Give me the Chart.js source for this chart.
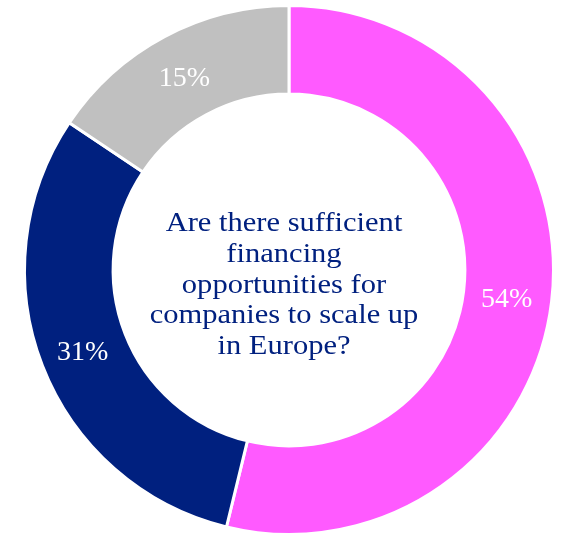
<!DOCTYPE html>
<html>
<head>
<meta charset="utf-8">
<script src="https://cdn.jsdelivr.net/npm/chart.js@4"></script>
<style>
  html, body { margin: 0; padding: 0; background: #ffffff; }
  #wrap { width: 565px; height: 536px; }
</style>
</head>
<body>
<div id="wrap"><canvas id="canvas"></canvas></div>
<script>
var labels = ["Yes", "No", "Don't know"];
// slice sizes as drawn in the original; printed labels are rounded
var shares = [53.8, 30.6, 15.6];
var shareLabels = ["54%", "31%", "15%"];
var colors = ["#ff5aff", "#00207f", "#c0c0c0"];
var centerLines = [
  "Are there sufficient",
  "financing",
  "opportunities for",
  "companies to scale up",
  "in Europe?"
];

var serif = "'Liberation Serif', 'Times New Roman', serif";

// percentage labels on each slice
var sliceLabels = {
  id: "sliceLabels",
  afterDatasetsDraw: function (chart) {
    var ctx = chart.ctx;
    var meta = chart.getDatasetMeta(0);
    ctx.save();
    ctx.font = "28px " + serif;
    ctx.fillStyle = "#ffffff";
    ctx.textAlign = "center";
    ctx.textBaseline = "middle";
    meta.data.forEach(function (arc, i) {
      var p = arc.tooltipPosition();
      ctx.fillText(shareLabels[i], p.x - 1, p.y + 3);
    });
    ctx.restore();
  }
};

// question in the middle of the ring (text is a bit wide in the original)
var centerText = {
  id: "centerText",
  afterDraw: function (chart) {
    var ctx = chart.ctx;
    var arc = chart.getDatasetMeta(0).data[0];
    var lineH = 30.8;
    var y0 = arc.y - 39;
    var sx = 1.09;
    ctx.save();
    ctx.translate(arc.x - 5, 0);
    ctx.scale(sx, 1);
    ctx.font = "28px " + serif;
    ctx.fillStyle = "#00207f";
    ctx.textAlign = "center";
    ctx.textBaseline = "alphabetic";
    centerLines.forEach(function (line, i) {
      ctx.fillText(line, 0, y0 + i * lineH);
    });
    ctx.restore();
  }
};

function draw() {
  const ctx = document.getElementById("canvas").getContext("2d");
  const myChart = new Chart(ctx, {
    type: "doughnut",
    data: {
      labels: labels,
      datasets: [
        {
          data: shares,
          backgroundColor: colors,
          borderColor: "#ffffff",
          borderWidth: 3,
        },
      ],
    },
    options: {
      responsive: true,
      maintainAspectRatio: false,
      animation: false,
      cutout: "66.5%",
      layout: {
        padding: { top: 4, bottom: 0, left: 23, right: 10 },
      },
      plugins: {
        legend: { display: false },
        tooltip: { enabled: false },
      },
    },
    plugins: [sliceLabels, centerText],
  });
}

// make sure the serif face is ready before the canvas draws text
document.fonts.load("28px 'Liberation Serif'").then(draw, draw);
</script>
</body>
</html>
